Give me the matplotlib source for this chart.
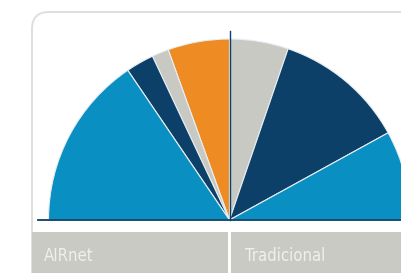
import matplotlib
matplotlib.use("Agg")
import matplotlib.pyplot as plt
from matplotlib.patches import FancyBboxPatch, Rectangle

# share of each half (percent of the half circle)
airnet_labels = ["Outros", "Cinza", "Escuro", "Azul"]
airnet_values = [22, 6, 10, 62]
airnet_colors = ["#EE8B22", "#C9C9C4", "#0C4068", "#0A8FC3"]

trad_labels = ["Cinza", "Escuro", "Azul"]
trad_values = [21, 47, 32]
trad_colors = ["#C9C9C4", "#0C4068", "#0A8FC3"]

panel_names = ["AIRnet", "Tradicional"]

W, H = 401, 273
fig = plt.figure(figsize=(W / 100, H / 100), dpi=100)
ax = fig.add_axes([0, 0, 1, 1])

cx, cy, r = 229.5, 53, 181
navy = "#0C3F66"

# rounded outer frame
frame = FancyBboxPatch((32, -40), 420, 262 - (-40) - 1,
                       boxstyle="round,pad=0,rounding_size=17",
                       facecolor="white", edgecolor="#DEDEDC", lw=1.4, zorder=0)
ax.add_patch(frame)

# each half of the circle = 0.25 of a full pie
ax.pie([v / 100 * 0.25 for v in airnet_values], colors=airnet_colors,
       startangle=90, counterclock=True, normalize=False, radius=r, center=(cx, cy),
       wedgeprops=dict(edgecolor="#E8EEF2", linewidth=0.8), frame=True)
ax.pie([v / 100 * 0.25 for v in trad_values], colors=trad_colors,
       startangle=90, counterclock=False, normalize=False, radius=r, center=(cx, cy),
       wedgeprops=dict(edgecolor="#E8EEF2", linewidth=0.8), frame=True)

# axis lines
ax.plot([38, W], [cy, cy], color=navy, lw=1.3, zorder=5)
ax.plot([cx, cx], [cy, 242], color=navy, lw=1.0, zorder=5)

# label boxes under the halves
ax.add_patch(Rectangle((32, 0), 195.5, 41, facecolor="#CACAC5", edgecolor="none", zorder=3))
ax.add_patch(Rectangle((231, 0), 200, 41, facecolor="#CACAC5", edgecolor="none", zorder=3))
for x, name in zip([44, 245], panel_names):
    ax.text(x, 17, name, fontsize=12, color="#EFEFEC", va="center", ha="left",
            family="DejaVu Sans", fontstretch="condensed", zorder=4)

ax.set_xlim(0, W)
ax.set_ylim(0, H)
ax.set_aspect("auto")
ax.axis("off")
fig.savefig("out.png", dpi=100, facecolor="white")
